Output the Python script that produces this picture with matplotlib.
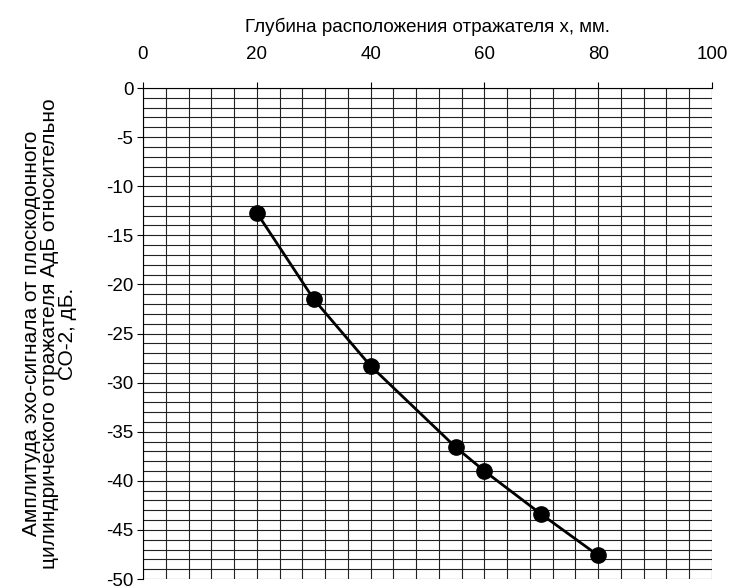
import matplotlib.pyplot as plt
import numpy as np

plt.rcParams['font.family'] = ['Liberation Sans', 'DejaVu Sans']
plt.rcParams['axes.unicode_minus'] = False

# глубина отражателя, мм и амплитуда, дБ
depth = [20, 30, 40, 55, 60, 70, 80]
amp = [-12.7, -21.5, -28.3, -36.6, -39.0, -43.4, -47.6]

x_ticks = [0, 20, 40, 60, 80, 100]
y_ticks = [0, -5, -10, -15, -20, -25, -30, -35, -40, -45, -50]

fig = plt.figure(figsize=(7.31, 5.86), dpi=100)
ax = fig.add_axes([0.1956, 0.0119, 0.7784, 0.8379])

ax.set_xlim(0, 100)
ax.set_ylim(-50, 0)
ax.xaxis.tick_top()
ax.xaxis.set_label_position('top')
ax.set_xticks(x_ticks)
ax.set_yticks(y_ticks)
ax.set_xticks(np.arange(0, 101, 4), minor=True)
ax.set_yticks(np.arange(-50, 1, 1), minor=True)
ax.tick_params(which='minor', length=0)
ax.tick_params(which='major', length=4, width=0.8, labelsize=13.5)
ax.tick_params(axis='x', pad=14)
ax.tick_params(axis='y', pad=3)
ax.grid(which='both', color='#222222', linewidth=0.8)
ax.set_axisbelow(True)

for s in ['right', 'bottom']:
    ax.spines[s].set_visible(False)

ax.plot(depth, amp, color='black', linewidth=2, marker='o', markersize=11, zorder=3)

ax.set_xlabel('Глубина расположения отражателя х, мм.', fontsize=13.5, labelpad=10)
ax.set_ylabel('Амплитуда эхо-сигнала от плоскодонного\nцилиндрического отражателя АдБ относительно\nСО-2, дБ.',
              fontsize=15, linespacing=0.93, multialignment='center')
ax.yaxis.set_label_coords(-0.116, 0.5)

fig.savefig('out.png', dpi=100)
